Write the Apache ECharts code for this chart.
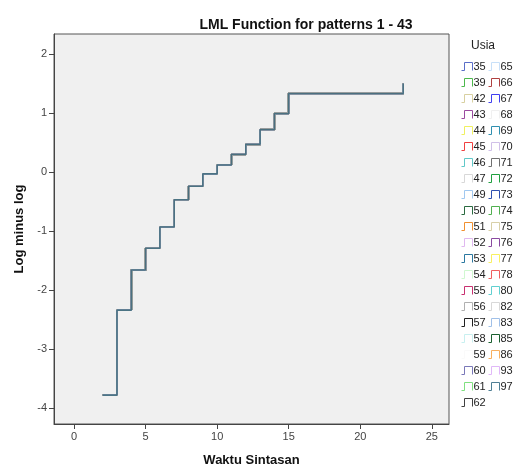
<!DOCTYPE html>
<html>
<head>
<meta charset="utf-8">
<script src="https://cdn.jsdelivr.net/npm/echarts@6/dist/echarts.min.js"></script>
<style>html,body{margin:0;padding:0;background:#fff}#c{width:525px;height:466px}</style>
</head>
<body>
<div id="c"></div>
<script>
// Step points of the LML curve (time, log minus log), shared by all overlapping patterns
const stepTimes = [2, 3, 4, 5, 6, 7, 8, 9, 10, 11, 12, 13, 14, 15, 23];
const stepValues = [-3.78, -2.34, -1.66, -1.29, -0.93, -0.47, -0.24, -0.03, 0.12, 0.30, 0.47, 0.72, 0.99, 1.33, 1.50];
const xTicks = [0, 5, 10, 15, 20, 25];
const yTicks = [-4, -3, -2, -1, 0, 1, 2];
const usiaCol1 = ['35','39','42','43','44','45','46','47','49','50','51','52','53','54','55','56','57','58','59','60','61','62'];
const usiaCol2 = ['65','66','67','68','69','70','71','72','73','74','75','76','77','78','80','82','83','85','86','93','97'];
const colors1 = ['#5a6ec8','#4cb84c','#d8d0a0','#9a4aa0','#f0f060','#f04040','#60c8c8','#d8d8d8','#a0c8f0','#2a6a40','#f09030','#e0b8f0','#2a78a0','#d0f8d0','#c83070','#b0b0b0','#202020','#c8f0f0','#fafafa','#7a78b8','#80e080','#404040'];
const colors2 = ['#c8e0f8','#b04040','#4040f0','#f0f0f0','#3090b0','#d0c0e8','#707070','#20a040','#3050b0','#50b050','#d8d0a8','#8a4aa0','#f8f060','#f06060','#60d0d0','#d8d8d8','#a0c0e8','#1a6030','#f8b060','#e0b8f8','#4f7f95'];

const points = stepTimes.map((t, i) => [t, stepValues[i]]);
const names = usiaCol1.concat(usiaCol2);
const cols = colors1.concat(colors2);
const series = names.map((n, i) => ({
  name: n, type: 'line', step: 'end', data: points, showSymbol: false, symbol: 'none',
  color: cols[i], lineStyle: { width: 1.6, color: cols[i] }, silent: true, animation: false, z: 2
}));
// darker core line to mimic overlapped strokes
series.push({ name: '_core', type: 'line', step: 'end', data: points, symbol: 'none',
  lineStyle: { width: 1, color: '#4a6e7c' }, animation: false, z: 3, silent: true });

const legendItems = (list, colList) => list.map((n, i) => ({
  name: n, itemStyle: { color: 'rgba(0,0,0,0)', borderColor: colList[i], borderWidth: 1 }
}));
const legendCommon = {
  orient: 'vertical', top: 61, itemWidth: 11, itemHeight: 8, itemGap: 5, padding: 0,
  icon: 'path://M0,8 L3,8 L3,0 L11,0 L11,8',
  textStyle: { fontFamily: 'Liberation Sans', fontSize: 11, lineHeight: 8, color: '#222', padding: [0, 0, 0, -4] },
  selectedMode: false
};

const chart = echarts.init(document.getElementById('c'), null, { renderer: 'canvas' });
chart.setOption({
  backgroundColor: '#fff',
  animation: false,
  title: {
    text: 'LML Function for patterns 1 - 43', left: 301, top: 13, textAlign: 'center',
    textStyle: { fontFamily: 'Liberation Sans', fontWeight: 'bold', fontSize: 14, color: '#111' }
  },
  graphic: [{ type: 'text', left: 471, top: 40, style: { text: 'Usia', font: '12px "Liberation Sans"', fill: '#222' } }],
  legend: [
    Object.assign({}, legendCommon, { left: 461, data: legendItems(usiaCol1, colors1) }),
    Object.assign({}, legendCommon, { left: 488, data: legendItems(usiaCol2, colors2) })
  ],
  grid: { left: 54, top: 34, right: 76, bottom: 42, outerBoundsMode: 'none', containLabel: false,
    show: true, backgroundColor: '#f0f0f0', borderColor: '#555', borderWidth: 1 },
  xAxis: {
    type: 'value', min: -1.4, max: 26.2,
    name: 'Waktu Sintasan', nameLocation: 'middle', nameGap: 30,
    nameTextStyle: { fontFamily: 'Liberation Sans', fontWeight: 'bold', fontSize: 13, color: '#111' },
    axisLine: { show: true, onZero: false, lineStyle: { color: '#444' } },
    axisTick: { show: true, inside: false, length: 5, customValues: xTicks, lineStyle: { color: '#444' } },
    axisLabel: { customValues: xTicks, fontFamily: 'Liberation Sans', fontSize: 11, color: '#444', margin: 7 },
    splitLine: { show: false }
  },
  yAxis: {
    type: 'value', min: -4.27, max: 2.34,
    name: 'Log minus log', nameLocation: 'middle', nameGap: 25, nameRotate: 90,
    nameTextStyle: { fontFamily: 'Liberation Sans', fontWeight: 'bold', fontSize: 13, color: '#111' },
    axisLine: { show: true, onZero: false, lineStyle: { color: '#444' } },
    axisTick: { show: true, inside: false, length: 5, customValues: yTicks, lineStyle: { color: '#444' } },
    axisLabel: { customValues: yTicks, fontFamily: 'Liberation Sans', fontSize: 11, color: '#444', margin: 7 },
    splitLine: { show: false }
  },
  series: series
});
</script>
</body>
</html>
